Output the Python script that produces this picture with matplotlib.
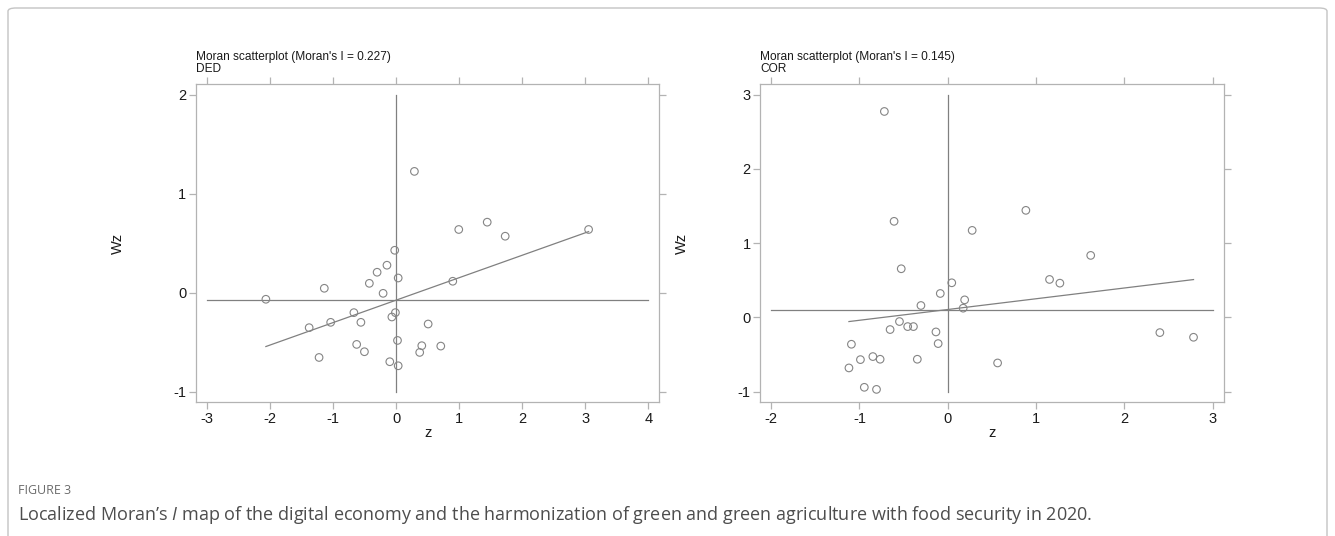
import numpy as np
import matplotlib
matplotlib.use("Agg")
import matplotlib.pyplot as plt
from matplotlib.patches import FancyBboxPatch

# ---------------- data ----------------
ded_z = [-2.064, -1.138, -1.378, -1.037, -1.221, -0.669, -0.558, -0.625, -0.502, -0.424,
         -0.301, -0.145, -0.206, -0.022, 0.033, -0.011, -0.067, 0.022, -0.100, 0.033,
         0.290, 0.508, 0.407, 0.374, 0.708, 0.898, 0.993, 1.444, 1.729, 3.051]
ded_wz = [-0.067, 0.044, -0.354, -0.300, -0.655, -0.202, -0.300, -0.523, -0.597, 0.094,
          0.206, 0.277, -0.007, 0.428, 0.148, -0.202, -0.246, -0.483, -0.698, -0.739,
          1.225, -0.317, -0.536, -0.604, -0.540, 0.115, 0.638, 0.712, 0.570, 0.638]
ded_moran_i = 0.227
ded_xticks = [-3, -2, -1, 0, 1, 2, 3, 4]
ded_yticks = [-1, 0, 1, 2]

cor_z = [-0.718, -0.608, -0.527, 0.884, 0.276, 1.618, 1.152, 1.269, 0.045, -0.085,
         0.191, 0.174, -0.304, -0.547, -0.653, -0.454, -0.389, -0.134, -0.109, -1.091,
         -0.989, -0.848, -0.766, -1.119, -0.345, -0.945, -0.807, 0.564, 2.401, 2.782]
cor_wz = [2.774, 1.294, 0.655, 1.442, 1.172, 0.835, 0.511, 0.461, 0.466, 0.322,
          0.236, 0.124, 0.160, -0.056, -0.164, -0.124, -0.124, -0.196, -0.353, -0.362,
          -0.569, -0.528, -0.564, -0.681, -0.564, -0.942, -0.970, -0.614, -0.205, -0.268]
cor_moran_i = 0.145
cor_xticks = [-2, -1, 0, 1, 2, 3]
cor_yticks = [-1, 0, 1, 2, 3]

panels = [
    ("DED", ded_z, ded_wz, ded_moran_i, ded_xticks, ded_yticks),
    ("COR", cor_z, cor_wz, cor_moran_i, cor_xticks, cor_yticks),
]

# ---------------- style ----------------
W, H = 1335, 536
plt.rcParams['font.family'] = ['Liberation Sans', 'DejaVu Sans']
fig = plt.figure(figsize=(W / 100, H / 100), dpi=100)
fig.patch.set_facecolor('white')

PT_COL = '#858585'
LINE_COL = '#808080'
FRAME_COL = '#b3b3b3'
TXT_COL = '#1a1a1a'
FS_TICK = 10.5
FS_TITLE = 8.6

def px_rect(x0, y0, x1, y1):
    return [x0 / W, 1 - y1 / H, (x1 - x0) / W, (y1 - y0) / H]

axes_px = [(196, 84, 659.3, 402.3), (760.3, 84, 1223.6, 402.3)]

for (x0, y0, x1, y1), (name, z, wz, mi, xt, yt) in zip(axes_px, panels):
    ax = fig.add_axes(px_rect(x0, y0, x1, y1))
    z = np.asarray(z)
    wz = np.asarray(wz)
    mz, mwz = z.mean(), wz.mean()

    # reference lines at means
    ax.plot([xt[0], xt[-1]], [mwz, mwz], color=LINE_COL, lw=0.9, zorder=1)
    ax.plot([mz, mz], [yt[0], yt[-1]], color=LINE_COL, lw=0.9, zorder=1)
    # fitted line, slope = Moran's I
    xs = np.array([z.min(), z.max()])
    ax.plot(xs, mwz + mi * (xs - mz), color=LINE_COL, lw=0.9, zorder=2)
    # points
    ax.scatter(z, wz, s=30, facecolors='none', edgecolors=PT_COL, linewidths=0.8, zorder=3)

    xr = xt[-1] - xt[0]
    yr = yt[-1] - yt[0]
    ax.set_xlim(xt[0] - 0.0245 * xr, xt[-1] + 0.0245 * xr)
    ax.set_ylim(yt[0] - 0.036 * yr, yt[-1] + 0.036 * yr)
    ax.set_xticks(xt)
    ax.set_yticks(yt)
    ax.set_xticklabels([str(v) for v in xt])
    ax.set_yticklabels([str(v) for v in yt])
    ax.tick_params(axis='both', which='both', direction='out', length=5, width=0.9,
                   color=FRAME_COL, labelsize=FS_TICK, labelcolor=TXT_COL, pad=2,
                   top=True, right=True, labeltop=False, labelright=False)
    for sp in ax.spines.values():
        sp.set_color(FRAME_COL)
        sp.set_linewidth(0.9)
    ax.set_xlabel('z', fontsize=FS_TICK, color=TXT_COL, labelpad=0)
    ax.set_ylabel('Wz', fontsize=FS_TICK, color=TXT_COL)
    ax.yaxis.set_label_coords(-71.0 / (x1 - x0), 0.5)
    ax.text(0, 1.027, "Moran scatterplot (Moran's I = %.3f)\n%s" % (mi, name),
            transform=ax.transAxes, ha='left', va='bottom', fontsize=FS_TITLE,
            color=TXT_COL, linespacing=1.1)

# outer frame
frame = FancyBboxPatch((8 / W, -0.05), (1327 - 8) / W, 1.05 - 8 / H,
                       boxstyle='round,pad=0,rounding_size=0.006',
                       transform=fig.transFigure, fill=False,
                       edgecolor='#c4c4c4', linewidth=1.0)
fig.patches.append(frame)

# caption
plt.rcParams['mathtext.fontset'] = 'custom'
plt.rcParams['mathtext.it'] = 'Open Sans:italic'
plt.rcParams['mathtext.rm'] = 'Open Sans'
fig.text(18 / W, 1 - 491 / H, 'FIGURE 3', fontsize=9, color='#6b6b6b',
         family=['Open Sans', 'DejaVu Sans'], va='center', ha='left')
fig.text(18 / W, 1 - 515 / H,
         "Localized Moran\u2019s $I$ map of the digital economy and the harmonization of green "
         "and green agriculture with food security in 2020.",
         fontsize=13, color='#4d4d4d', family=['Open Sans', 'DejaVu Sans'],
         va='center', ha='left')

fig.savefig('out.png', dpi=100, facecolor='white')
